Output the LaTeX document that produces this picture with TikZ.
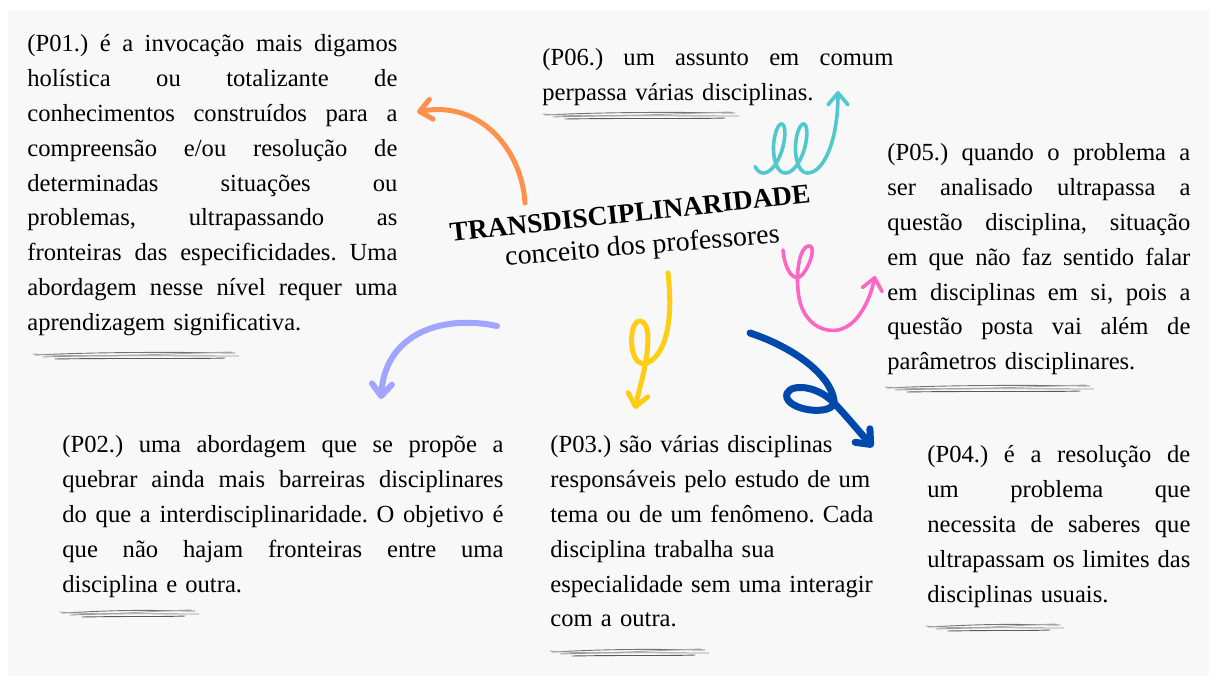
\documentclass[tikz,border=0pt]{standalone}
\usepackage{fontspec}
\setmainfont{Liberation Serif}
\usetikzlibrary{arrows.meta}
\frenchspacing

\definecolor{bgGray}{RGB}{248,248,248}
\definecolor{orangeArrow}{RGB}{255,145,77}
\definecolor{lilacArrow}{RGB}{160,165,255}
\definecolor{yellowArrow}{RGB}{255,205,20}
\definecolor{tealArrow}{RGB}{80,200,205}
\definecolor{pinkArrow}{RGB}{255,102,196}
\definecolor{blueArrow}{RGB}{0,72,170}

\newcommand{\bodyfont}{\fontsize{12.3}{17.4}\selectfont\frenchspacing}
\newcommand{\jline}[1]{\leavevmode\hbox to \hsize{\spaceskip=0.25em plus 1fil\relax #1}\\}
\newcommand{\scribble}[3]{% x1, x2, y
  \draw[scribble, black!55] (#1,#3) .. controls ({#1+60},{#3-3}) and ({#2-60},{#3-3}) .. ({#2},{#3-2});
  \draw[scribble, black!40] ({#1+8},{#3+2}) .. controls ({#1+70},{#3}) and ({#2-50},{#3+1}) .. ({#2+4},{#3+1});
  \draw[scribble, black!65] ({#1+20},{#3+4}) .. controls ({#1+80},{#3+3}) and ({#2-40},{#3+4}) .. ({#2-10},{#3+3});
  \draw[scribble, black!35] ({#1-2},{#3-1}) .. controls ({#1+50},{#3+3}) and ({#2-70},{#3-1}) .. ({#2-4},{#3-3});
}

\begin{document}
\begin{tikzpicture}[x=0.5pt,y=-0.5pt]

\tikzset{quotebox/.style={anchor=base west, text width=#1, align=left, inner sep=0pt, font=\bodyfont},
  sketcharrow/.style={line width=#1, line cap=round, line join=round, -{Straight Barb[length=6pt,width=10pt,round]}},
  scribble/.style={line width=0.45pt, line cap=round}}

    % Canvas
    \useasboundingbox[fill=white] (0,0) rectangle (1217,684);
    \fill[bgGray] (8,10) rectangle (1209,676);

    % Centre title
    \node[rotate=6.2, anchor=base, font=\fontsize{13.7}{16}\selectfont\bfseries] (title) at (631,222) {TRANSDISCIPLINARIDADE};
    \node[rotate=4.8, anchor=base, font=\fontsize{14}{16}\selectfont] (subtitle) at (643,254) {conceito dos professores};

    % Quotes
    \node[quotebox=185pt] (p01) at (27,52) {\jline{(P01.) é a invocação mais digamos}
    \jline{holística ou totalizante de}
    \jline{conhecimentos construídos para a}
    \jline{compreensão e/ou resolução de}
    \jline{determinadas situações ou}
    \jline{problemas, ultrapassando as}
    \jline{fronteiras das especificidades. Uma}
    \jline{abordagem nesse nível requer uma}
    aprendizagem significativa.};
    \node[quotebox=175.5pt] (p06) at (542,66) {\jline{(P06.) um assunto em comum}
    perpassa várias disciplinas.};
    \node[quotebox=151.5pt] (p05) at (887,161) {\jline{(P05.) quando o problema a}
    \jline{ser analisado ultrapassa a}
    \jline{questão disciplina, situação}
    \jline{em que não faz sentido falar}
    \jline{em disciplinas em si, pois a}
    \jline{questão posta vai além de}
    parâmetros disciplinares.};
    \node[quotebox=220.5pt] (p02) at (62,453) {\jline{(P02.) uma abordagem que se propõe a}
    \jline{quebrar ainda mais barreiras disciplinares}
    \jline{do que a interdisciplinaridade. O objetivo é}
    \jline{que não hajam fronteiras entre uma}
    disciplina e outra.};
    \node[quotebox=170pt] (p03) at (550,453) {(P03.) são várias disciplinas\\
    responsáveis pelo estudo de um\\
    tema ou de um fenômeno. Cada\\
    disciplina trabalha sua\\
    especialidade sem uma interagir\\
    com a outra.};
    \node[quotebox=131.5pt] (p04) at (927,463) {\jline{(P04.) é a resolução de}
    \jline{um problema que}
    \jline{necessita de saberes que}
    \jline{ultrapassam os limites das}
    disciplinas usuais.};

    % Pencil underlines
    \scribble{35}{235}{355}
    \scribble{545}{735}{115}
    \scribble{887}{1090}{388}
    \scribble{62}{195}{613}
    \scribble{552}{705}{652}
    \scribble{928}{1060}{627}

    % Orange arrow to P01
    \coordinate (o-start) at (525,203);
    \coordinate (o-end) at (417,112);
    \draw[sketcharrow=2.5pt, orangeArrow] (o-start) .. controls (522,150) and (480,100) .. (o-end);

    % Lilac arrow to P02
    \coordinate (l-start) at (497,326);
    \coordinate (l-end) at (381,399);
    \draw[sketcharrow=3pt, lilacArrow] (l-start) .. controls (440,314) and (385,335) .. (l-end);

    % Yellow arrow with loop to P03
    \coordinate (y-start) at (668,273);
    \coordinate (y-end) at (635,409);
    \draw[sketcharrow=2.5pt, yellowArrow] (y-start) .. controls (674,325) and (664,354) .. (649,362)
      .. controls (636,369) and (630,352) .. (632,334) .. controls (634,315) and (648,317) .. (648,338)
      .. controls (648,362) and (640,385) .. (y-end);

    % Blue arrow with loop to P04
    \coordinate (b-start) at (750,333);
    \coordinate (b-end) at (873,447);
    \draw[sketcharrow=3.5pt, blueArrow] (b-start) .. controls (795,348) and (830,375) .. (834,400)
      .. controls (837,416) and (792,412) .. (787,398) .. controls (783,384) and (815,382) .. (835,404)
      .. controls (850,420) and (862,435) .. (b-end);

    % Pink arrow with loop to P05
    \coordinate (k-start) at (783,250);
    \coordinate (k-end) at (875,276);
    \draw[sketcharrow=1.8pt, pinkArrow] (k-start) .. controls (785,272) and (795,284) .. (803,274)
      .. controls (812,262) and (816,244) .. (808,246) .. controls (800,248) and (796,270) .. (798,290)
      .. controls (800,320) and (820,333) .. (838,330) .. controls (858,326) and (870,300) .. (k-end);

    % Teal spring to P06
    \coordinate (t-end) at (838,91);
    \draw[sketcharrow=1.8pt, tealArrow] plot[domain=2.4:5*pi, samples=120, smooth]
      ({756+3.5*\x-10*sin(\x r)+3.5*cos(\x r)}, {148.5-24.5*cos(\x r)})
      .. controls (824,173) and (838,140) .. (t-end);

\end{tikzpicture}
\end{document}
